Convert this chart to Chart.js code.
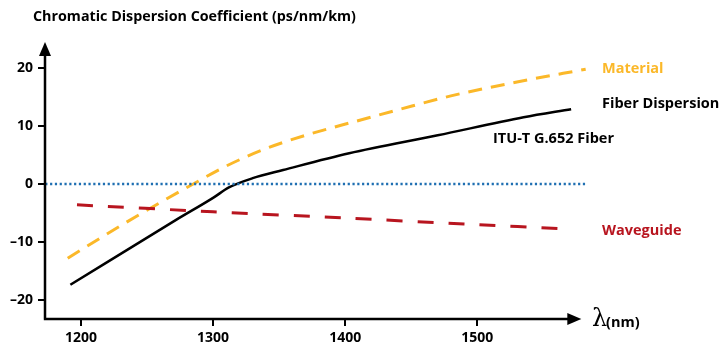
<!DOCTYPE html>
<html>
<head>
<meta charset="utf-8">
<script src="https://cdn.jsdelivr.net/npm/chart.js@4.4.1/dist/chart.umd.min.js"></script>
<style>
  html, body { margin: 0; padding: 0; background: #fff; }
  #wrap { width: 725px; height: 350px; position: relative; }
</style>
</head>
<body>
<div id="wrap"><canvas id="dispersion-chart"></canvas></div>
<script>
// Data
const fiberNm = [1192, 1272, 1300, 1312, 1330, 1353, 1403, 1470, 1535, 1571];
const fiberVal = [-17.4, -6.2, -2.4, -0.6, 1.0, 2.4, 5.3, 8.4, 11.5, 12.9];
const materialNm = [1190, 1230, 1260, 1285, 1310, 1340, 1370, 1411, 1440, 1480, 1530, 1582];
const materialVal = [-12.8, -7.2, -3.2, 0, 3.1, 6.1, 8.4, 11.0, 12.8, 15.2, 17.6, 19.8];
const waveguideNm = [1197, 1300, 1402, 1490, 1571];
const waveguideVal = [-3.6, -4.8, -5.9, -6.9, -7.8];
const zeroNm = [1173, 1583];
const zeroVal = [0, 0];
const xTicks = [1200, 1300, 1400, 1500];
const yTicks = [20, 10, 0, -10, -20];

const FONT = '"Open Sans"';
const YELLOW = '#fbb829';
const RED = '#b8151f';
const BLUE = '#1f6fb2';

function pts(xs, ys) {
  return xs.map((x, i) => ({ x: x, y: ys[i] }));
}

// axes with arrows, title and series labels
const decorPlugin = {
  id: 'decor',
  afterDraw(chart) {
    const c = chart.ctx;
    const xs = chart.scales.x;
    const ys = chart.scales.y;
    const left = xs.getPixelForValue(1172.8);
    const bottom = ys.getPixelForValue(-23.3);
    const top = ys.getPixelForValue(24.5);
    const right = xs.getPixelForValue(1578.7);
    c.save();
    c.strokeStyle = '#000';
    c.fillStyle = '#000';
    c.lineWidth = 2.5;
    c.beginPath();
    c.moveTo(left, bottom);
    c.lineTo(left, top + 10);
    c.moveTo(left - 1.2, bottom);
    c.lineTo(right - 10, bottom);
    c.stroke();
    // arrow heads
    c.beginPath();
    c.moveTo(left, top);
    c.lineTo(left - 6, top + 14);
    c.lineTo(left + 6, top + 14);
    c.closePath();
    c.fill();
    c.beginPath();
    c.moveTo(right, bottom);
    c.lineTo(right - 14, bottom - 6);
    c.lineTo(right - 14, bottom + 6);
    c.closePath();
    c.fill();

    c.textBaseline = 'middle';
    c.textAlign = 'left';
    c.font = 'bold 14.3px ' + FONT;
    c.fillText('Chromatic Dispersion Coefficient (ps/nm/km)', 33, 17);

    c.font = 'bold 14.5px ' + FONT;
    c.fillStyle = YELLOW;
    c.fillText('Material', 602, 69);
    c.fillStyle = '#000';
    c.fillText('Fiber Dispersion', 602, 104);
    c.fillText('ITU-T G.652 Fiber', 493, 139);
    c.fillStyle = RED;
    c.fillText('Waveguide', 602, 231);

    c.fillStyle = '#000';
    c.font = '24px "DejaVu Serif"';
    c.fillText('\u03bb', 592, 320);
    c.font = 'bold 14.5px ' + FONT;
    c.fillText('(nm)', 606, 323);
    c.restore();
  }
};

const ctx = document.getElementById('dispersion-chart').getContext('2d');
const chart = new Chart(ctx, {
  type: 'line',
  data: {
    datasets: [
      {
        label: 'Zero',
        data: pts(zeroNm, zeroVal),
        borderColor: BLUE,
        borderWidth: 2.5,
        borderDash: [2.2, 2.6],
        pointRadius: 0,
        tension: 0,
      },
      {
        label: 'Waveguide',
        data: pts(waveguideNm, waveguideVal),
        borderColor: RED,
        borderWidth: 3,
        borderDash: [16, 15],
        pointRadius: 0,
        tension: 0.3,
      },
      {
        label: 'Material',
        data: pts(materialNm, materialVal),
        borderColor: YELLOW,
        borderWidth: 3,
        borderDash: [14, 9],
        pointRadius: 0,
        cubicInterpolationMode: 'monotone',
      },
      {
        label: 'Fiber Dispersion',
        data: pts(fiberNm, fiberVal),
        borderColor: '#000',
        borderWidth: 2.5,
        pointRadius: 0,
        cubicInterpolationMode: 'monotone',
      },
    ],
  },
  options: {
    responsive: true,
    maintainAspectRatio: false,
    animation: false,
    layout: { padding: { top: 42, left: 0, right: 138, bottom: 0 } },
    plugins: {
      legend: { display: false },
      tooltip: { enabled: false },
    },
    scales: {
      x: {
        type: 'linear',
        min: 1172.8,
        max: 1583,
        afterFit(scale) { scale.height = 31; },
        afterBuildTicks(scale) { scale.ticks = xTicks.map(v => ({ value: v })); },
        border: { display: false },
        grid: { drawOnChartArea: false, drawTicks: true, tickLength: 7, color: '#000', lineWidth: 2 },
        ticks: {
          color: '#000',
          padding: 4,
          maxRotation: 0,
          font: { family: FONT, size: 14, weight: 'bold' },
          callback: v => String(v),
        },
      },
      y: {
        type: 'linear',
        min: -23.3,
        max: 24.5,
        afterFit(scale) { scale.width = 45; },
        afterBuildTicks(scale) { scale.ticks = yTicks.map(v => ({ value: v })); },
        border: { display: false },
        grid: { drawOnChartArea: false, drawTicks: true, tickLength: 7, color: '#000', lineWidth: 2 },
        ticks: {
          color: '#000',
          padding: 5,
          font: { family: FONT, size: 14, weight: 'bold' },
          callback: v => (v < 0 ? '\u2013' + Math.abs(v) : String(v)),
        },
      },
    },
  },
  plugins: [decorPlugin],
});
</script>
</body>
</html>
